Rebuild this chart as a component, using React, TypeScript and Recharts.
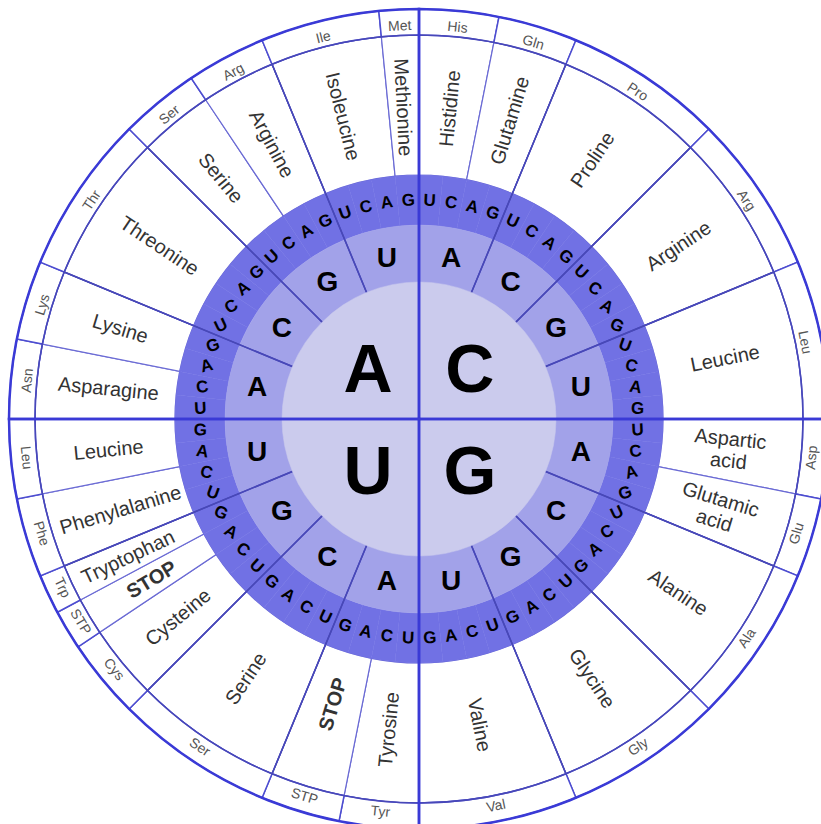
import { PieChart, Pie } from 'recharts';

const RADIAN = Math.PI / 180;
const CX = 419;
const CY = 419;
const FONT = '"Liberation Sans", Arial, sans-serif';

// clockwise from 9 o'clock
const firstBases = ['A', 'C', 'G', 'U'];
const secondBases = ['A', 'C', 'G', 'U', 'A', 'C', 'G', 'U', 'A', 'C', 'G', 'U', 'A', 'C', 'G', 'U'];
const thirdBases = ['U', 'C', 'A', 'G'];

const aminoNames = [
  'Asparagine', 'Lysine', 'Threonine', 'Serine', 'Arginine', 'Isoleucine', 'Methionine',
  'Histidine', 'Glutamine', 'Proline', 'Arginine', 'Leucine',
  'Aspartic acid', 'Glutamic acid', 'Alanine', 'Glycine', 'Valine',
  'Tyrosine', 'STOP', 'Serine', 'Cysteine', 'STOP', 'Tryptophan', 'Phenylalanine', 'Leucine',
];
const aminoAbbr = [
  'Asn', 'Lys', 'Thr', 'Ser', 'Arg', 'Ile', 'Met',
  'His', 'Gln', 'Pro', 'Arg', 'Leu',
  'Asp', 'Glu', 'Ala', 'Gly', 'Val',
  'Tyr', 'STP', 'Ser', 'Cys', 'STP', 'Trp', 'Phe', 'Leu',
];
const codonCounts = [2, 2, 4, 2, 2, 3, 1, 2, 2, 4, 4, 4, 2, 2, 4, 4, 4, 2, 2, 4, 2, 1, 1, 2, 2];

const innerData = firstBases.map((b) => ({ name: b, value: 1 }));
const secondData = secondBases.map((b) => ({ name: b, value: 1 }));
const thirdData = secondBases.flatMap(() => thirdBases.map((b) => ({ name: b, value: 1 })));
const aminoData = aminoNames.map((n, i) => ({ name: n, value: codonCounts[i] }));

const LIGHT = '#cbcbed';
const MEDIUM = '#a2a2e9';
const DARK = '#7171e4';

function polar(cx: number, cy: number, r: number, angle: number) {
  return { x: cx + r * Math.cos(-angle * RADIAN), y: cy + r * Math.sin(-angle * RADIAN) };
}
const norm = (a: number) => ((a % 360) + 360) % 360;

const innerLabel = (p: any) => {
  const { x, y } = polar(p.cx, p.cy, 72, p.midAngle);
  return (
    <text key={p.index} x={x} y={y} textAnchor="middle" dominantBaseline="central"
      fontFamily={FONT} fontWeight="bold" fontSize={68} fill="#000">
      {firstBases[p.index]}
    </text>
  );
};

const secondLabel = (p: any) => {
  const { x, y } = polar(p.cx, p.cy, 165, p.midAngle);
  return (
    <text key={p.index} x={x} y={y} textAnchor="middle" dominantBaseline="central"
      fontFamily={FONT} fontWeight="bold" fontSize={28} fill="#000">
      {secondBases[p.index]}
    </text>
  );
};

const thirdLabel = (p: any) => {
  const a = norm(p.midAngle);
  const k = Math.round(a / 90);
  const d = a - 90 * k;
  const rot = k % 2 === 0 ? d : -d;
  const { x, y } = polar(p.cx, p.cy, 219, p.midAngle);
  return (
    <text key={p.index} x={x} y={y} textAnchor="middle" dominantBaseline="central"
      transform={`rotate(${rot} ${x} ${y})`}
      fontFamily={FONT} fontWeight="bold" fontSize={17} fill="#000">
      {thirdData[p.index].name}
    </text>
  );
};

const aminoLabel = (p: any) => {
  const a = norm(p.midAngle);
  const right = a < 90 || a > 270;
  const rot = right ? -a : 180 - a;
  const name = aminoNames[p.index];
  const r = name === 'Tryptophan' ? 322 : name === 'STOP' && p.index === 18 ? 298 : 312;
  const { x, y } = polar(p.cx, p.cy, r, p.midAngle);
  const parts = name.split(' ');
  const bold = name === 'STOP';
  return (
    <text key={p.index} x={x} y={y} textAnchor="middle" dominantBaseline="central"
      transform={`rotate(${rot} ${x} ${y})`}
      fontFamily={FONT} fontWeight={bold ? 'bold' : 'normal'} fontSize={20} fill="#333">
      {parts.length === 1 ? name : parts.map((t, i) => (
        <tspan key={i} x={x} dy={i === 0 ? -11 : 22}>{t}</tspan>
      ))}
    </text>
  );
};

const outerLabel = (p: any) => {
  const a = norm(p.midAngle);
  const rot = a > 0 && a < 180 ? 90 - a : -90 - a;
  const { x, y } = polar(p.cx, p.cy, 394, p.midAngle);
  return (
    <text key={p.index} x={x} y={y} textAnchor="middle" dominantBaseline="central"
      transform={`rotate(${rot} ${x} ${y})`}
      fontFamily={FONT} fontSize={14} fill="#555">
      {aminoAbbr[p.index]}
    </text>
  );
};

export default function App() {
  return (
    <div style={{ position: 'absolute', left: 0, top: 0, background: '#fff' }}>
      <PieChart width={821} height={824} margin={{ top: 0, right: 0, bottom: 0, left: 0 }}>
        <Pie data={aminoData} dataKey="value" cx={CX} cy={CY} innerRadius={244} outerRadius={384}
          startAngle={180} endAngle={-180} fill="#fff" stroke="#6a6ad4" strokeWidth={1.2}
          label={aminoLabel} labelLine={false} isAnimationActive={false} />
        <Pie data={aminoData} dataKey="value" cx={CX} cy={CY} innerRadius={384} outerRadius={410}
          startAngle={180} endAngle={-180} fill="#fff" stroke="#4d4dd0" strokeWidth={1.5}
          label={outerLabel} labelLine={false} isAnimationActive={false} />
        <Pie data={thirdData} dataKey="value" cx={CX} cy={CY} innerRadius={194} outerRadius={244}
          startAngle={180} endAngle={-180} fill={DARK} stroke={DARK} strokeWidth={0.5}
          label={thirdLabel} labelLine={false} isAnimationActive={false} />
        <Pie data={secondData} dataKey="value" cx={CX} cy={CY} innerRadius={136} outerRadius={194}
          startAngle={180} endAngle={-180} fill={MEDIUM} stroke={MEDIUM} strokeWidth={0.5}
          label={secondLabel} labelLine={false} isAnimationActive={false} />
        <Pie data={secondData} dataKey="value" cx={CX} cy={CY} innerRadius={128} outerRadius={384}
          startAngle={180} endAngle={-180} fill="none" stroke="#4848b8" strokeWidth={1.5}
          isAnimationActive={false} />
        <Pie data={innerData} dataKey="value" cx={CX} cy={CY} innerRadius={0} outerRadius={137}
          startAngle={180} endAngle={-180} fill={LIGHT} stroke={LIGHT} strokeWidth={0.5}
          label={innerLabel} labelLine={false} isAnimationActive={false} />
        <Pie data={innerData} dataKey="value" cx={CX} cy={CY} innerRadius={0} outerRadius={410}
          startAngle={180} endAngle={-180} fill="none" stroke="#3a3ad6" strokeWidth={2.5}
          isAnimationActive={false} />
      </PieChart>
    </div>
  );
}
